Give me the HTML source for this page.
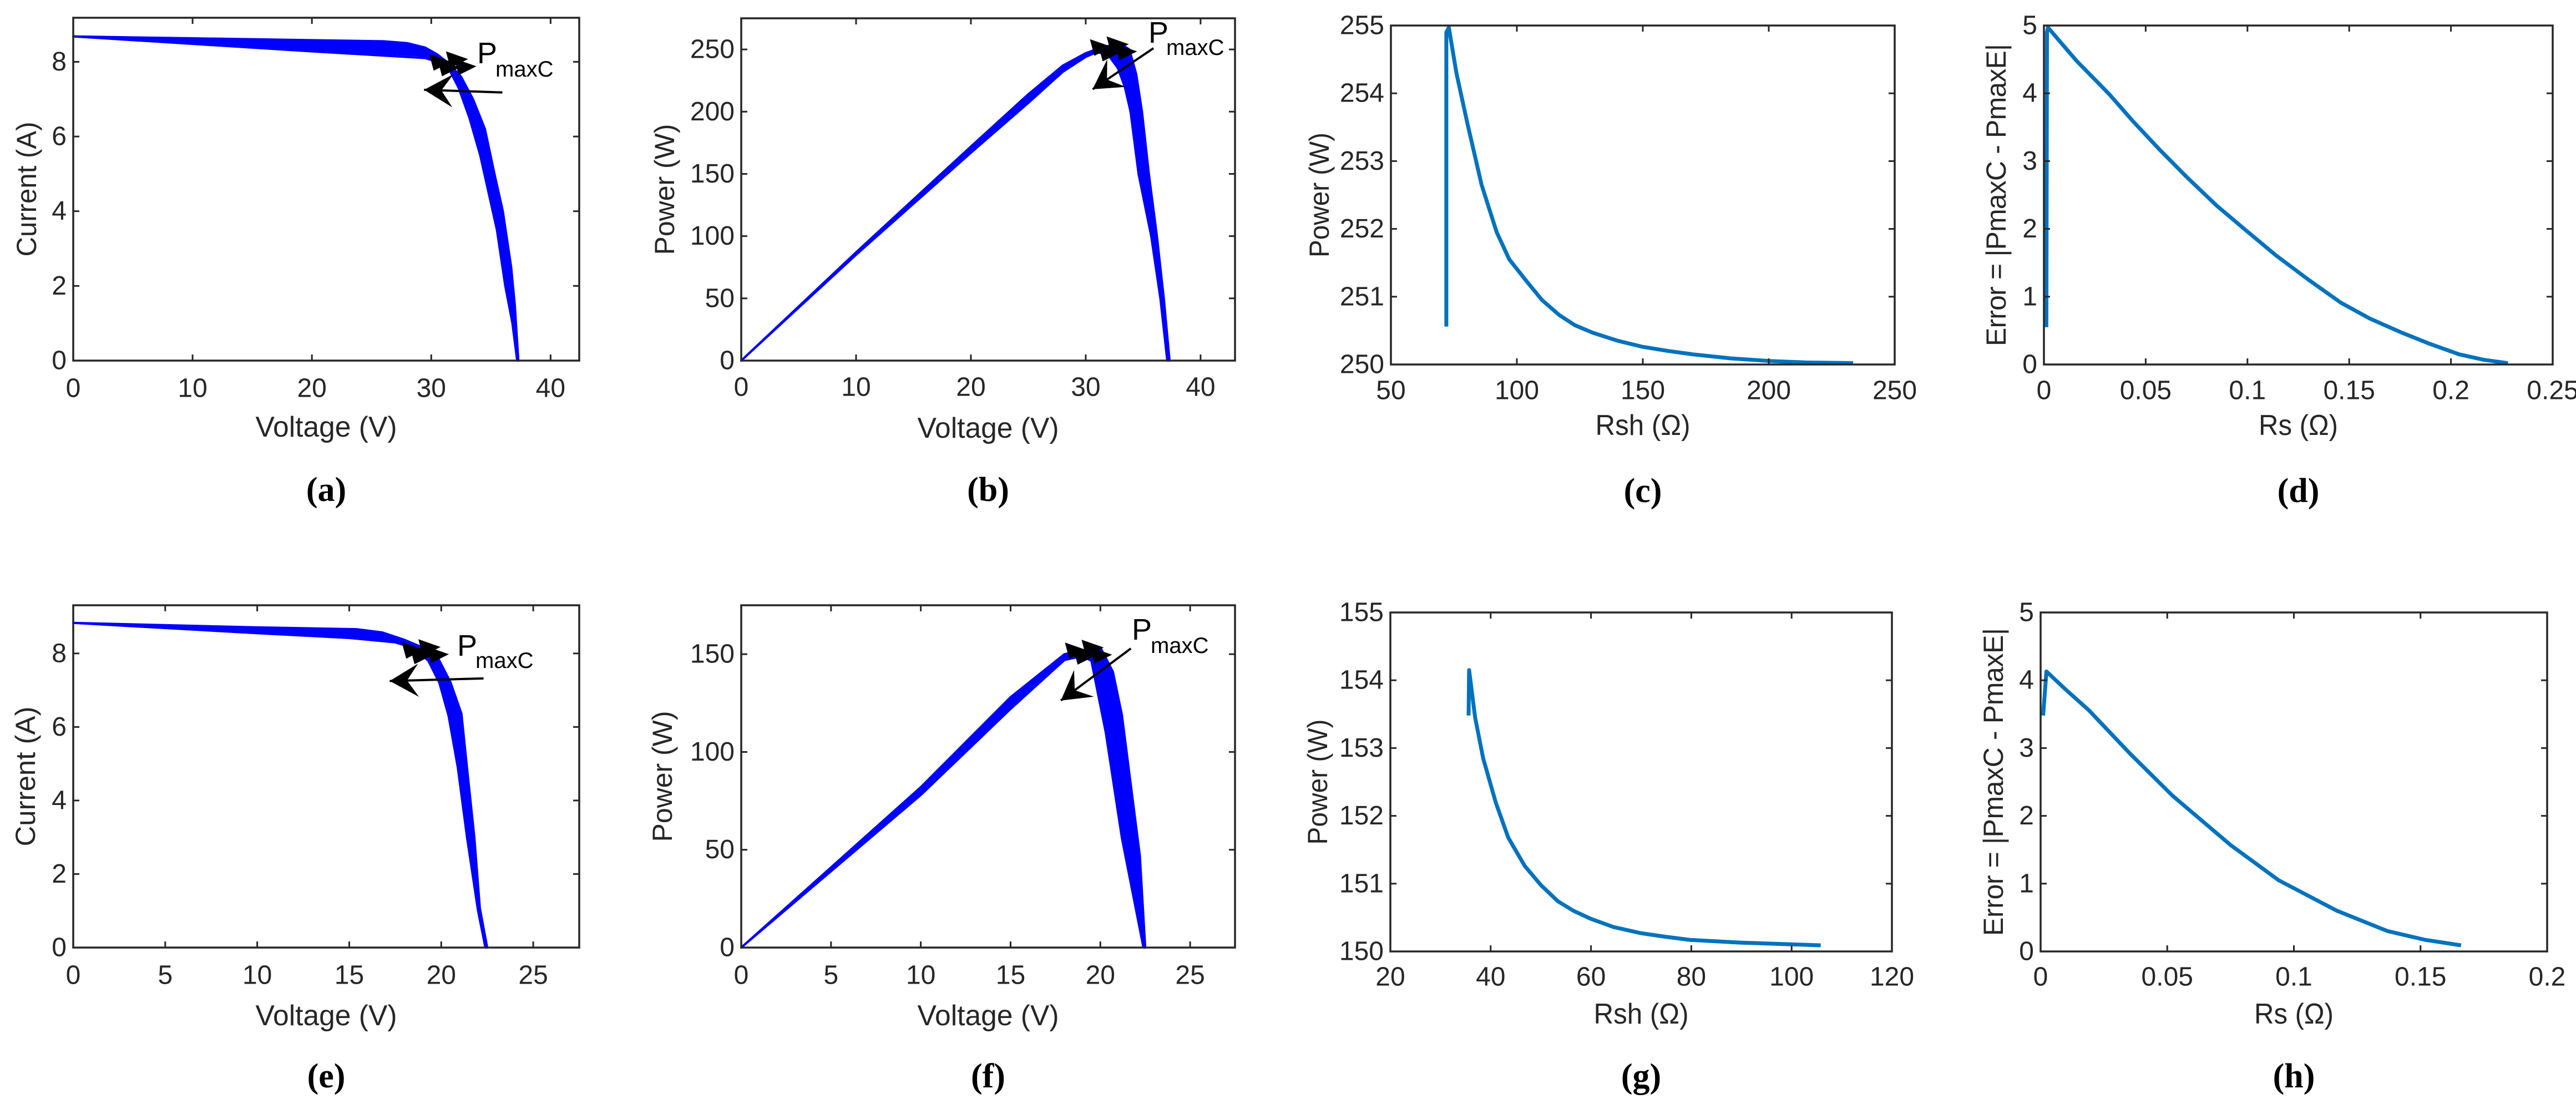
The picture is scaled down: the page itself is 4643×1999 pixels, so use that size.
<!DOCTYPE html>
<html><head><meta charset="utf-8">
<style>
html,body{margin:0;padding:0;background:#fff;}
svg{display:block;}
text{font-family:"Liberation Sans",sans-serif;fill:#262626;}
.cap{font-family:"Liberation Serif",serif;font-weight:bold;fill:#000;font-size:62px;}
</style></head>
<body>
<svg id="fig" width="4643" height="1999" viewBox="0 0 4643 1999" xmlns="http://www.w3.org/2000/svg"></svg>
<script>
// ---- data arrays ----
const aUpperV=[0,10,20,26,28,29.5,30.5,31.5,32.5,33.5,34.5,35.3,36.0,36.7,37.0,37.3];
const aUpperI=[8.68,8.63,8.58,8.55,8.5,8.38,8.2,7.95,7.6,7.0,6.2,5.0,4.0,2.5,1.5,0];
const aLowerV=[0,10,20,29,30.5,31.5,32.3,33.2,34.1,34.8,35.5,36.2,36.8,37.2];
const aLowerI=[8.68,8.5,8.33,8.17,8.05,7.8,7.3,6.5,5.5,4.5,3.5,2.0,1.0,0];
const aOutV=[0,10,20,29.5,31];
const aOutI=[8.68,8.48,8.28,8.1,7.95];
const bUpperV=[0,10,20,25,28,30,31.5,33,33.8,34.4,34.9,35.5,36.2,36.8,37.3];
const bUpperP=[0,87,172,214,237,247,252,254.5,250,230,200,150,100,50,0];
const bLowerV=[0,10,20,25,28,30,31,32,32.8,33.4,33.9,34.6,35.7,36.5,37.1];
const bLowerP=[0,85,167,207,232,244,248,245,235,220,200,150,100,50,0];
const cRsh=[72,72,73,76,80.4,86,92,97,103.6,110,116.8,123,130,140,150,160,169.7,185,201,215,233.5];
const cPow=[250.56,254.9,254.97,254.3,253.55,252.65,251.95,251.55,251.24,250.95,250.73,250.58,250.47,250.35,250.26,250.2,250.15,250.09,250.05,250.03,250.02];
const dRs=[0.0012,0.0015,0.002,0.016,0.032,0.044,0.0565,0.07,0.085,0.1,0.114,0.13,0.146,0.16,0.175,0.19,0.204,0.216,0.228];
const dErr=[0.55,4.9,4.97,4.48,3.99,3.58,3.18,2.77,2.34,1.96,1.61,1.25,0.91,0.68,0.48,0.3,0.15,0.07,0.02];
const eUpperV=[0,9.9,15.4,16.8,18,18.9,19.8,20.5,21.1,21.4,21.8,22.1,22.5];
const eUpperI=[8.83,8.71,8.66,8.57,8.37,8.18,7.9,7.22,6.36,4.9,3.0,1.07,0];
const eLowerV=[0,10,15,17.5,18.5,19.3,19.9,20.4,20.9,21.4,22,22.4];
const eLowerI=[8.83,8.55,8.42,8.3,8.15,7.8,7.2,6.3,4.9,3.0,1.0,0];
const fUpperV=[0,10,15,18,19,20,20.7,21.2,21.7,22.2,22.5];
const fUpperP=[0,82,128,150,152,153.5,141,119,83,47,0];
const fLowerV=[0,10,15,18,19,19.5,20.3,21.2,22.4];
const fLowerP=[0,78,122,147,149,146.6,110,56,0];
const gRsh=[35.6,35.7,36.9,38.5,41,43.5,46.8,50,53.4,56.5,60,64.5,69.9,74.5,79.8,89.8,105.8];
const gPow=[153.48,154.15,153.45,152.85,152.2,151.68,151.26,150.98,150.74,150.6,150.48,150.36,150.27,150.22,150.17,150.13,150.09];
const hRs=[0.001,0.0023,0.01,0.019,0.035,0.052,0.075,0.094,0.117,0.137,0.152,0.166];
const hErr=[3.48,4.13,3.86,3.56,2.93,2.30,1.57,1.05,0.6,0.30,0.17,0.09];
const tickA_x=[0,10,20,30,40], tickA_y=[0,2,4,6,8];
const tickB_x=[0,10,20,30,40], tickB_y=[0,50,100,150,200,250];
const tickC_x=[50,100,150,200,250], tickC_y=[250,251,252,253,254,255];
const tickD_x=[0,0.05,0.1,0.15,0.2,0.25], tickD_y=[0,1,2,3,4,5];
const tickE_x=[0,5,10,15,20,25], tickE_y=[0,2,4,6,8];
const tickF_x=[0,5,10,15,20,25], tickF_y=[0,50,100,150];
const tickG_x=[20,40,60,80,100,120], tickG_y=[150,151,152,153,154,155];
const tickH_x=[0,0.05,0.1,0.15,0.2], tickH_y=[0,1,2,3,4,5];

const NS="http://www.w3.org/2000/svg";
const svg=document.getElementById('fig');
function mk(tag,attrs,parent){const e=document.createElementNS(NS,tag);for(const k in attrs)e.setAttribute(k,attrs[k]);(parent||svg).appendChild(e);return e;}

function panel(id,box,xd,yd,xt,yt,xlab,ylab,ylabX,xlabY,tickY,capY,ylabLen,xlabLen,yAdj){
  const g=mk('g',{});
  
  
  const sx=v=>box.l+(v-xd[0])/(xd[1]-xd[0])*(box.r-box.l);
  const sy=v=>box.b-(v-yd[0])/(yd[1]-yd[0])*(box.b-box.t);
  const plot=mk('g',{},g);
  xt.forEach(v=>{const x=sx(v);
    mk('line',{x1:x,x2:x,y1:box.b,y2:box.b-11,stroke:'#262626','stroke-width':3},g);
    mk('line',{x1:x,x2:x,y1:box.t,y2:box.t+11,stroke:'#262626','stroke-width':3},g);
    const t=mk('text',{x:x,y:tickY,'font-size':48,'text-anchor':'middle','dominant-baseline':'central'},g);
    
    
    t.textContent=v;});
  yt.forEach(v=>{const y=sy(v);
    mk('line',{x1:box.l,x2:box.l+11,y1:y,y2:y,stroke:'#262626','stroke-width':3},g);
    mk('line',{x1:box.r,x2:box.r-11,y1:y,y2:y,stroke:'#262626','stroke-width':3},g);
    const t=mk('text',{x:box.l-12,y:y,'font-size':48,'text-anchor':'end','dominant-baseline':'central'},g);
    
    
    t.textContent=v;});
  const fr=mk('rect',{x:box.l,y:box.t,width:box.r-box.l,height:box.b-box.t,fill:'none',stroke:'#262626','stroke-width':3.5},g);
  
  
  const xl=mk('text',{x:(box.l+box.r)/2,y:xlabY,'font-size':52,'text-anchor':'middle','dominant-baseline':'central',textLength:xlabLen,lengthAdjust:'spacingAndGlyphs'},g);
  
  
  xl.textContent=xlab;
  const cy=(box.t+box.b)/2;
  const yl=mk('text',{x:ylabX,y:cy,'font-size':50,'text-anchor':'middle','dominant-baseline':'central',transform:`rotate(-90 ${ylabX} ${cy})`,textLength:ylabLen,lengthAdjust:yAdj||'spacingAndGlyphs'},g);
  
  
  yl.textContent=ylab;
  const c=mk('text',{x:(box.l+box.r)/2,y:capY,'text-anchor':'middle','dominant-baseline':'central',class:'cap'},g);
  
  
  c.textContent='('+id+')';
  return {sx,sy,plot,g};
}
function band(p,uX,uY,lX,lY,name){
  let d='M'+uX.map((v,i)=>p.sx(v)+','+p.sy(uY[i])).join('L');
  for(let i=lX.length-1;i>=0;i--) d+='L'+p.sx(lX[i])+','+p.sy(lY[i]);
  const e=mk('path',{d:d+'Z',fill:'#0000ff',stroke:'#0000ff','stroke-width':4,'stroke-linejoin':'round'},p.plot);
  
  
}
function line(p,X,Y,name,color,w){
  const d='M'+X.map((v,i)=>p.sx(v)+','+p.sy(Y[i])).join('L');
  const e=mk('path',{d:d,fill:'none',stroke:color,'stroke-width':w,'stroke-linejoin':'round'},p.plot);
  
  
}
function pmax(p,vx,vy,px,py,mx,my){
  const cx=p.sx(vx),cy=p.sy(vy);
  const cl=mk('g',{},p.g);
  
  
  [[-20,0],[10,-5],[25,8],[-5,10]].forEach(o=>{
    mk('polygon',{points:`${cx+o[0]-18},${cy+o[1]-14} ${cx+o[0]+22},${cy+o[1]} ${cx+o[0]-10},${cy+o[1]+16}`,fill:'#000'},cl);
  });
  const t=mk('text',{x:px,y:py,'font-size':54},p.g);
  
  
  t.setAttribute('style','fill:#000');
  t.textContent='P';
  const s=mk('tspan',{x:mx,y:my,'font-size':40},t);
  s.textContent='maxC';
}
function arrow(p,x1,y1,x2,y2){
  const X1=p.sx(x1),Y1=p.sy(y1),X2=p.sx(x2),Y2=p.sy(y2);
  const ang=Math.atan2(Y2-Y1,X2-X1);
  const g=mk('g',{},p.g);
  
  
  mk('line',{x1:X1,y1:Y1,x2:X2,y2:Y2,stroke:'#000','stroke-width':4},g);
  const L=52,W=30;
  const bx=X2-L*Math.cos(ang),by=Y2-L*Math.sin(ang);
  const nx=-Math.sin(ang),ny=Math.cos(ang);
  const ix=X2-0.6*L*Math.cos(ang),iy=Y2-0.6*L*Math.sin(ang);
  mk('polygon',{points:`${X2},${Y2} ${bx+nx*W},${by+ny*W} ${ix},${iy} ${bx-nx*W},${by-ny*W}`,fill:'#000'},g);
}

const pa=panel('a',{l:132,r:1044,t:32,b:650},[0,42.4],[0,9.18],tickA_x,tickA_y,'Voltage (V)','Current (A)',48,770,700,883,243,255);
band(pa,aUpperV,aUpperI,aLowerV,aLowerI,'iv-curve-band');
line(pa,aOutV,aOutI,'iv-outlier-curve','#0000ff',4);
pmax(pa,31.6,8.0,860,114,893,138);
arrow(pa,35.96,7.18,29.4,7.25);

const pb=panel('b',{l:1336,r:2226,t:33,b:650},[0,43],[0,275],tickB_x,tickB_y,'Voltage (V)','Power (W)',1198,772,698,883,236,255);
band(pb,bUpperV,bUpperP,bLowerV,bLowerP,'pv-curve-band');
pmax(pb,32.2,252,2070,77,2102,99);
arrow(pb,35.9,251,30.6,218);

const pc=panel('c',{l:2507,r:3415,t:46,b:657},[50,250],[250,255],tickC_x,tickC_y,'Rsh (Ω)','Power (W)',2378,767,704,885,225,171);
line(pc,cRsh,cPow,'power-vs-rsh-line','#0072BD',7);

const pd=panel('d',{l:3684,r:4601,t:46,b:657},[0,0.25],[0,5],tickD_x,tickD_y,'Rs (Ω)','Error = |PmaxC - PmaxE|',3598,767,704,885,545,143,'spacing');
line(pd,dRs,dErr,'error-vs-rs-line','#0072BD',7);

const pe=panel('e',{l:132,r:1044,t:1091,b:1708},[0,27.5],[0,9.31],tickE_x,tickE_y,'Voltage (V)','Current (A)',46,1831,1758,1940,252,255);
band(pe,eUpperV,eUpperI,eLowerV,eLowerI,'iv-curve-band');
pmax(pe,19,8.1,824,1182,857,1204);
arrow(pe,22.3,7.32,17.2,7.25);

const pf=panel('f',{l:1336,r:2226,t:1091,b:1708},[0,27.5],[0,175],tickF_x,tickF_y,'Voltage (V)','Power (W)',1194,1831,1758,1940,236,255);
band(pf,fUpperV,fUpperP,fLowerV,fLowerP,'pv-curve-band');
pmax(pf,19.2,152,2040,1153,2074,1177);
arrow(pf,21.7,152.9,17.8,126.3);

const pg=panel('g',{l:2506,r:3410,t:1104,b:1715},[20,120],[150,155],tickG_x,tickG_y,'Rsh (Ω)','Power (W)',2375,1828,1761,1940,226,171);
line(pg,gRsh,gPow,'power-vs-rsh-line','#0072BD',7);

const ph=panel('h',{l:3678,r:4591,t:1104,b:1715},[0,0.2],[0,5],tickH_x,tickH_y,'Rs (Ω)','Error = |PmaxC - PmaxE|',3593,1828,1761,1940,555,143,'spacing');
line(ph,hRs,hErr,'error-vs-rs-line','#0072BD',7);
</script>
</body></html>
